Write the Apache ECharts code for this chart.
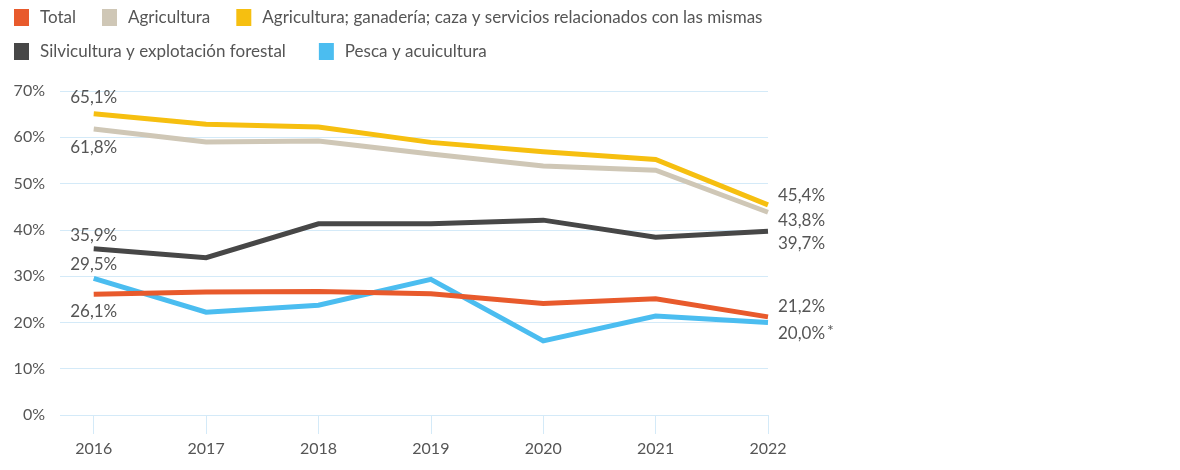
<!DOCTYPE html>
<html>
<head>
    <meta charset="utf-8">
    <title>Sector primario</title>
    <script src="https://cdn.jsdelivr.net/npm/echarts@6/dist/echarts.min.js"></script>
    <style>
        html, body { margin: 0; padding: 0; background: #fff; }
        #main { width: 1180px; height: 470px; }
    </style>
</head>
<body>
<div id="main"></div>
<script type="text/javascript">
    // datos (porcentajes)
    var years = [2016, 2017, 2018, 2019, 2020, 2021, 2022];
    var total = [26.1, 26.6, 26.7, 26.2, 24.1, 25.1, 21.2];
    var agricultura = [61.8, 59.0, 59.2, 56.4, 53.8, 52.9, 43.8];
    var agriGanaderia = [65.1, 62.8, 62.2, 58.9, 56.9, 55.2, 45.4];
    var silvicultura = [35.9, 34.0, 41.3, 41.3, 42.1, 38.4, 39.7];
    var pesca = [29.5, 22.2, 23.7, 29.3, 16.0, 21.4, 20.0];
    var yTicks = [0, 10, 20, 30, 40, 50, 60, 70];

    var names = ['Total', 'Agricultura', 'Agricultura; ganadería; caza y servicios relacionados con las mismas',
                 'Silvicultura y explotación forestal', 'Pesca y acuicultura'];
    var colors = ['#e85a2c', '#cfc7b6', '#f6bf10', '#474747', '#4bbdf0'];

    // desplazamiento vertical de la etiqueta final (2022)
    var endShift = [-10, 8, -9, 12, 11];

    var fontFam = 'Lato, "Open Sans", sans-serif';
    var txt = '#555555';

    function fmt(v) { return v.toFixed(1).replace('.', ',') + '%'; }

    // etiqueta en el primer y último punto
    function withLabels(vals, first, star) {
        return vals.map(function (v, i) {
            var item = { value: [years[i], v] };
            if (i === 0 && first) {
                item.label = { show: true, position: first[0], distance: first[1], formatter: fmt(v) };
            }
            if (i === vals.length - 1) {
                item.label = {
                    show: true, position: 'right', distance: 10,
                    formatter: star ? fmt(v) + '{s|*}' : fmt(v),
                    rich: { s: { fontSize: 16, color: txt, fontFamily: fontFam, verticalAlign: 'top', padding: [0, 0, 6, 2] } }
                };
            }
            return item;
        });
    }

    var seriesData = [
        withLabels(total, ['bottom', 9], false),
        withLabels(agricultura, ['bottom', 10], false),
        withLabels(agriGanaderia, ['top', 8], false),
        withLabels(silvicultura, ['top', 5], false),
        withLabels(pesca, ['top', 5], true)
    ];

    var legendText = { fontSize: 17, color: txt, fontFamily: fontFam, padding: [0, 0, 0, 6] };

    var myChart = echarts.init(document.getElementById('main'));

    var option = {
        animation: false,
        textStyle: { fontFamily: fontFam },
        legend: [
            {
                data: names.slice(0, 3),
                left: 14, top: 9, padding: 0,
                icon: 'rect', itemWidth: 15, itemHeight: 17, itemGap: 26,
                textStyle: legendText
            },
            {
                data: names.slice(3),
                left: 14, top: 43, padding: 0,
                icon: 'rect', itemWidth: 15, itemHeight: 17, itemGap: 33,
                textStyle: legendText
            }
        ],
        grid: { left: 60, right: 412, top: 91, bottom: 55, containLabel: false },
        xAxis: {
            type: 'value',
            min: 2015.7, max: 2022,
            axisLine: { show: false },
            splitLine: { show: false },
            axisTick: { show: true, length: 19, customValues: years, lineStyle: { color: '#d4eaf8', width: 1 } },
            axisLabel: {
                customValues: years, color: txt, fontSize: 16, margin: 26,
                fontFamily: fontFam, formatter: function (v) { return String(v); }
            }
        },
        yAxis: {
            type: 'value',
            min: 0, max: 70, interval: 10,
            axisLine: { show: false },
            axisTick: { show: false },
            splitLine: { lineStyle: { color: '#d4eaf8', width: 1 } },
            axisLabel: {
                color: txt, fontSize: 16, margin: 15, fontFamily: fontFam,
                formatter: function (v) { return yTicks.indexOf(v) >= 0 ? v + '%' : ''; }
            }
        },
        series: names.map(function (n, i) {
            return {
                name: n,
                type: 'line',
                data: seriesData[i],
                symbol: 'circle',
                symbolSize: 0,
                showSymbol: true,
                color: colors[i],
                lineStyle: { width: 5, color: colors[i], cap: 'butt', join: 'miter' },
                label: { color: txt, fontSize: 17, fontFamily: fontFam },
                labelLayout: function (p) {
                    if (p.dataIndex === years.length - 1) {
                        return { dy: endShift[i], hideOverlap: false };
                    }
                    return { hideOverlap: false };
                },
                z: i === 0 ? 3 : 2
            };
        })
    };

    myChart.setOption(option);
</script>
</body>
</html>
